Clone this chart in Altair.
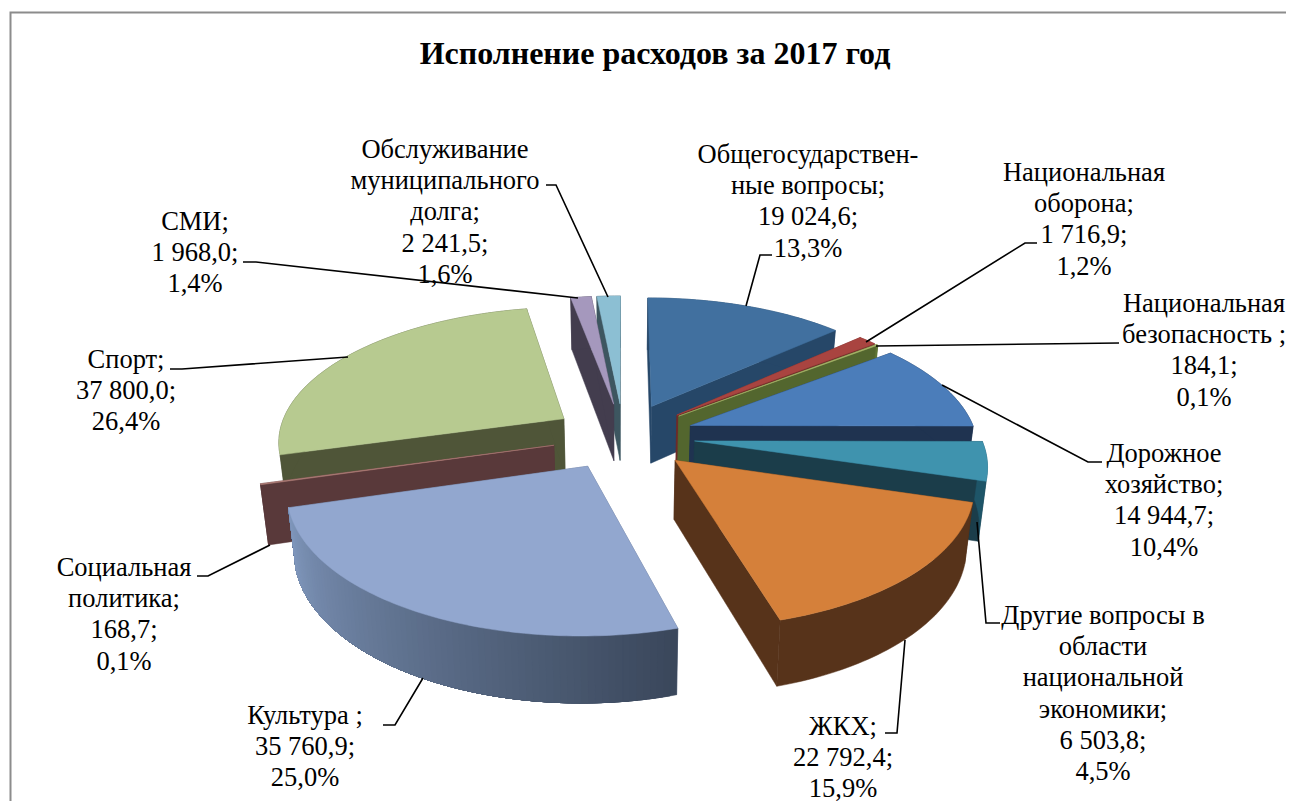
import math
import altair as alt

# ---------- chart values ----------
categories = ["Общегосударственные вопросы", "Национальная оборона", "Национальная безопасность",
              "Дорожное хозяйство", "Другие вопросы в области национальной экономики", "ЖКХ",
              "Культура", "Социальная политика", "Спорт", "СМИ", "Обслуживание муниципального долга"]
values = [19024.6, 1716.9, 184.1, 14944.7, 6503.8, 22792.4, 35760.9, 168.7, 37800.0, 1968.0, 2241.5]
label_lines = [
    ["Общегосударствен-", "ные вопросы;", "19 024,6;", "13,3%"],
    ["Национальная", "оборона;", "1 716,9;", "1,2%"],
    ["Национальная", "безопасность ;", "184,1;", "0,1%"],
    ["Дорожное", "хозяйство;", "14 944,7;", "10,4%"],
    ["Другие вопросы в", "области", "национальной", "экономики;", "6 503,8;", "4,5%"],
    ["ЖКХ;", "22 792,4;", "15,9%"],
    ["Культура ;", "35 760,9;", "25,0%"],
    ["Социальная", "политика;", "168,7;", "0,1%"],
    ["Спорт;", "37 800,0;", "26,4%"],
    ["СМИ;", "1 968,0;", "1,4%"],
    ["Обслуживание", "муниципального", "долга;", "2 241,5;", "1,6%"],
]
title_text = "Исполнение расходов за 2017 год"

# ---------- styles and layout (page pixels, the chart starts at 8,8) ----------
top_colors = ["#41709f", "#a94440", "#a8b56a", "#4b7dba", "#3f93ae", "#d5803a",
              "#92a7cf", "#b07f78", "#b7ca90", "#a598bd", "#8cbfd3"]
wall_colors = ["#264768", "#6e2b28", "#53662e", "#1f3350", "#1b3d4a", "#57331a",
               "#5d6d88", "#59393a", "#4f5538", "#433d4e", "#3d5660"]
side_left = ["#264768", "#7a302c", "#5f7534", "#1f3350", "#1e5568", "#57331a",
             "#8097bc", "#59393a", "#4f5538", "#433d4e", "#3d5660"]
side_right = ["#264768", "#7a302c", "#5f7534", "#1f3350", "#1e5568", "#57331a",
              "#3a475b", "#59393a", "#4f5538", "#433d4e", "#3d5660"]
label_centers = [(808, 155), (1084, 173), (1204, 304), (1164, 454), (1103, 616), (843, 727),
                 (305, 716), (124, 568), (126, 360), (195, 222), (445, 150)]
LINE_PITCH = 31.2
leaders = [
    [(772, 255), (760, 255), (746, 306)],
    [(1037, 243), (1025, 243), (866, 342)],
    [(1119, 343), (876, 346)],
    [(1102, 462), (1088, 462), (942, 385)],
    [(1000, 623), (986, 623), (977, 522)],
    [(885, 733), (897, 733), (905, 640)],
    [(383, 725), (395, 725), (423, 678)],
    [(197, 576), (208, 576), (270, 545)],
    [(170, 369), (182, 369), (348, 357)],
    [(243, 262), (256, 262), (578, 298)],
    [(546, 185), (556, 185), (608, 297)],
]
CX, CY, A, B, P, EXPLODE = 623.4, 436.0, 286.0, 133.5, 0.153, 0.25
OX, OY = 8, 8
W, H = 1278, 793
FONT = "Liberation Serif"


def project(u, v, bottom=False):
    w = 1.0 / (1.0 - P * v)
    x = CX + A * u * w
    y = CY + B * v * w
    if bottom:
        x = CX + (x - CX) * 0.978
        y += 19.0 + 39.0 * w
    return (round(x - OX, 2), round(y - OY, 2))


def polygon(points, color):
    ring = [list(p) for p in points]
    ring.append(ring[0])
    return {"type": "Feature", "properties": {"color": color},
            "geometry": {"type": "Polygon", "coordinates": [ring]}}


def mix(c1, c2, t):
    a = [int(c1[i:i + 2], 16) for i in (1, 3, 5)]
    b = [int(c2[i:i + 2], 16) for i in (1, 3, 5)]
    return "#%02x%02x%02x" % tuple(round(p + (q - p) * t) for p, q in zip(a, b))


total = sum(values)
slices = []
cum = 0.0
for i, val in enumerate(values):
    start = cum / total * 2 * math.pi
    cum += val
    end = cum / total * 2 * math.pi
    slices.append((i, start, end))


def pt(theta, ex, ey):
    return (ex + math.sin(theta), ey - math.cos(theta))


features = []
for i, start, end in sorted(slices, key=lambda s: -math.cos((s[1] + s[2]) / 2)):
    mid = (start + end) / 2
    ex, ey = EXPLODE * math.sin(mid), -EXPLODE * math.cos(mid)
    n = max(2, int((end - start) / 0.02))
    rim = [pt(start + (end - start) * k / n, ex, ey) for k in range(n + 1)]
    # radial walls
    for edge in (rim[0], rim[-1]):
        features.append(polygon([project(ex, ey), project(*edge), project(*edge, True), project(ex, ey, True)],
                                wall_colors[i]))
    # outer wall: overlapping shaded pieces, each running on to the end of the rim
    steps = range(n) if side_left[i] != side_right[i] else [0]
    for k in steps:
        part = rim[k:]
        poly = [project(*p) for p in part] + [project(*p, True) for p in reversed(part)]
        t = (n - 1 - k) / max(1, n - 1)
        features.append(polygon(poly, mix(side_left[i], side_right[i], t)))
    # top face
    features.append(polygon([project(ex, ey)] + [project(*p) for p in rim], top_colors[i]))

line_features = [{"type": "Feature", "properties": {},
                  "geometry": {"type": "LineString",
                               "coordinates": [[x - OX, y - OY] for x, y in pts]}} for pts in leaders]
border_features = [{"type": "Feature", "properties": {},
                    "geometry": {"type": "LineString",
                                 "coordinates": [[2.5, H], [2.5, 4.5], [W, 4.5]]}}]

text_rows = []
for (cx, cy), lines in zip(label_centers, label_lines):
    for j, line in enumerate(lines):
        text_rows.append({"x": cx - OX, "y": cy - OY + j * LINE_PITCH, "t": line})

identity = dict(type="identity", scale=1, translate=[0, 0])
px = alt.Scale(domain=[0, W], range=[0, W])
py = alt.Scale(domain=[0, H], range=[0, H])

border = alt.Chart(alt.Data(values=border_features)).mark_geoshape(
    filled=False, stroke="#8c8c8c", strokeWidth=2).project(**identity)
pie = alt.Chart(alt.Data(values=features)).mark_geoshape(strokeWidth=0.5).encode(
    fill=alt.Fill("properties.color:N", scale=None),
    stroke=alt.Stroke("properties.color:N", scale=None),
).project(**identity)
lines_layer = alt.Chart(alt.Data(values=line_features)).mark_geoshape(
    filled=False, stroke="black", strokeWidth=1.6).project(**identity)
labels = alt.Chart(alt.Data(values=text_rows)).mark_text(
    font=FONT, fontSize=26.5, color="black", align="center", baseline="middle").encode(
    x=alt.X("x:Q", scale=px, axis=None),
    y=alt.Y("y:Q", scale=py, axis=None),
    text="t:N")
title = alt.Chart(alt.Data(values=[{"x": 655 - OX, "y": 54 - OY, "t": title_text}])).mark_text(
    font=FONT, fontSize=32, fontWeight="bold", color="black", align="center", baseline="middle").encode(
    x=alt.X("x:Q", scale=px, axis=None),
    y=alt.Y("y:Q", scale=py, axis=None),
    text="t:N")

chart = alt.layer(border, pie, lines_layer, labels, title).resolve_scale(
    x="shared", y="shared").properties(width=W, height=H, padding=0).configure_view(stroke=None)
chart.save("out.html", embed_options={"renderer": "svg", "actions": False})
